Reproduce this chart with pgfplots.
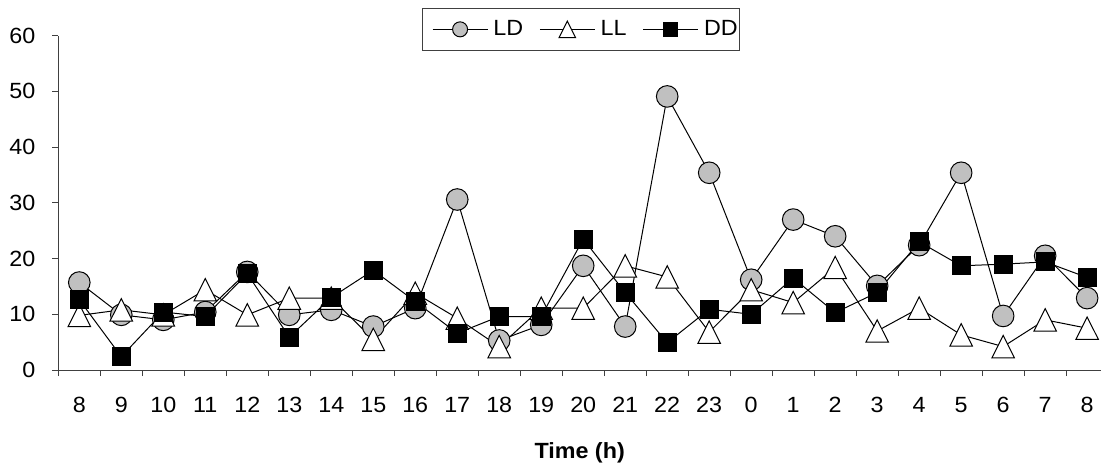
\documentclass[border=0pt]{standalone}
\usepackage{pgfplots}
\usepackage{pgfplotstable}
\pgfplotsset{compat=1.18}
\usepackage{fontspec}
\setmainfont{Liberation Sans}[FakeStretch=1.06]
\definecolor{ldgray}{HTML}{C0C0C0}
\definecolor{axgray}{HTML}{404040}
\pgfplotstableread{
i LD LL DD
0 15.7 9.8 12.6
1 9.9 10.8 2.4
2 9.0 9.9 10.4
3 10.4 14.4 9.6
4 17.6 9.9 17.3
5 9.9 12.9 5.9
6 10.8 12.9 13.0
7 7.8 5.5 17.9
8 11.1 13.8 12.3
9 30.6 9.3 6.6
10 5.3 4.2 9.6
11 8.1 11.1 9.6
12 18.7 11.1 23.5
13 7.8 18.7 13.9
14 49.1 16.7 4.9
15 35.4 6.8 10.9
16 16.2 14.4 10.0
17 27.0 12.1 16.5
18 24.0 18.4 10.3
19 15.1 7.0 13.9
20 22.4 11.1 23.0
21 35.4 6.3 18.7
22 9.7 4.2 19.0
23 20.5 9.0 19.4
24 12.9 7.5 16.6
}\data
\begin{document}
\begin{tikzpicture}[font=\fontsize{11}{13.2}\selectfont]
\useasboundingbox (-29.15pt,-47.5pt) rectangle (521.35pt,185pt);
\begin{axis}[
  at={(0pt,0pt)}, anchor=south west,
  scale only axis, width=521.35pt, height=167.15pt,
  xmin=-0.5, xmax=24.33, ymin=0, ymax=60,
  clip=false,
  axis x line=bottom, axis y line=left,
  axis line style={-, draw=axgray, line width=0.5pt},
  xtick={0,...,24},
  xticklabels={8,9,10,11,12,13,14,15,16,17,18,19,20,21,22,23,0,1,2,3,4,5,6,7,8},
  major x tick style={draw=none},
  minor xtick={-0.5,0.5,...,23.5},
  minor tick length=3pt,
  ytick={0,10,...,60},
  tick align=outside,
  major tick length=3pt,
  tick style={draw=axgray, line width=0.5pt},
  /pgf/number format/assume math mode=true,
  tick label style={font=\fontsize{11}{13.2}\selectfont},
  xticklabel style={yshift=-7pt},
  yticklabel style={xshift=-5pt},
  xlabel={\textbf{Time (h)}},
  xlabel style={at={(rel axis cs:0.5,0)}, anchor=center, yshift=-41.3pt, font=\fontsize{11}{13.2}\selectfont},
  legend columns=3,
  legend style={at={(0.501,1.019)}, anchor=center, draw=axgray, line width=0.5pt,
    font=\fontsize{11}{13.2}\selectfont,
    inner xsep=0.8pt, inner ysep=5.8pt,
    nodes={inner sep=0pt},
    /tikz/every odd column/.append style={column sep=2.7pt},
    /tikz/every even column/.append style={column sep=8pt}},
]
\addplot[black, line width=0.5pt, mark=*, mark size=5.4pt,
  mark options={fill=ldgray, draw=black, line width=0.5pt},
  legend image code/.code={
    \path (-4.2pt,0pt);
    \draw[black, line width=0.5pt] (0pt,0pt) -- (27.5pt,0pt);
    \draw[black, fill=ldgray, line width=0.5pt] (13.75pt,0pt) circle (3.75pt);}
] table[x=i, y=LD]{\data};
\addlegendentry{LD}
\addplot[black, line width=0.5pt, mark=triangle*, mark size=6.5pt,
  mark options={fill=white, draw=black, line width=0.5pt, yshift=-1.87pt, yscale=1.15},
  legend image code/.code={
    \draw[black, line width=0.5pt] (0pt,0pt) -- (27.5pt,0pt);
    \draw[black, fill=white, line width=0.5pt] (9.6pt,-4.15pt) -- (17.9pt,-4.15pt) -- (13.75pt,4.15pt) -- cycle;}
] table[x=i, y=LL]{\data};
\addlegendentry{LL}
\addplot[black, line width=0.5pt, mark=square*, mark size=4.5pt,
  mark options={fill=black, draw=black, line width=0.5pt},
  legend image code/.code={
    \draw[black, line width=0.5pt] (0pt,0pt) -- (27.5pt,0pt);
    \draw[black, fill=black, line width=0.5pt] (10.15pt,-3.6pt) rectangle (17.35pt,3.6pt);}
] table[x=i, y=DD]{\data};
\addlegendentry{DD}
\end{axis}
\end{tikzpicture}
\end{document}
